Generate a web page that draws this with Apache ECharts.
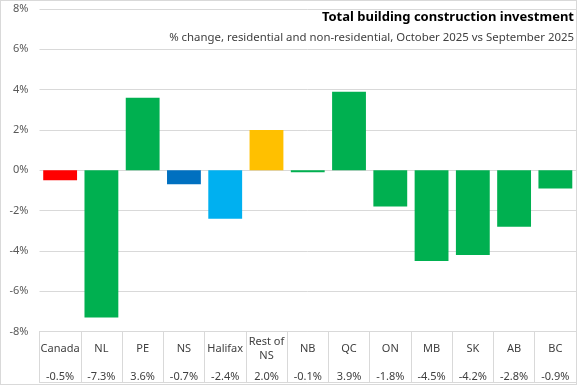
<!DOCTYPE html>
<html><head><meta charset="utf-8">
<script src="https://cdn.jsdelivr.net/npm/echarts@6/dist/echarts.min.js"></script>
<style>html,body{margin:0;padding:0;background:#fff}#c{width:577px;height:385px;box-sizing:border-box;border:1px solid #d9d9d9}</style>
</head><body><div id="c"></div>
<script>
const categories = ['Canada','NL','PE','NS','Halifax','Rest of\nNS','NB','QC','ON','MB','SK','AB','BC'];
const values = [-0.5,-7.3,3.6,-0.7,-2.4,2.0,-0.1,3.9,-1.8,-4.5,-4.2,-2.8,-0.9];
const valueLabels = ['-0.5%','-7.3%','3.6%','-0.7%','-2.4%','2.0%','-0.1%','3.9%','-1.8%','-4.5%','-4.2%','-2.8%','-0.9%'];
const barColors = ['#FF0000','#00B050','#00B050','#0070C0','#00B0F0','#FFC000','#00B050','#00B050','#00B050','#00B050','#00B050','#00B050','#00B050'];
const yTicks = [-8,-6,-4,-2,0,2,4,6,8];

const FONT = 'Noto Sans';
const chart = echarts.init(document.getElementById('c'));
chart.setOption({
  animation: false,
  textStyle: {fontFamily: FONT},
  title: [{
    text: 'Total building construction investment',
    right: 2, top: 10, padding: 0,
    textStyle: {fontFamily: FONT, fontSize: 13, fontWeight: 'bold', color: '#000'}
  }, {
    text: '% change, residential and non-residential, October 2025 vs September 2025',
    right: 2, top: 31, padding: 0,
    textStyle: {fontFamily: FONT, fontSize: 11.4, fontWeight: 'normal', color: '#404040'}
  }],
  grid: {left: 38.5, right: 0, top: 8, bottom: 52.5, containLabel: false},
  xAxis: [{
    type: 'category', data: categories, position: 'bottom',
    axisLine: {onZero: false, lineStyle: {color: '#d9d9d9'}},
    axisTick: {show: true, interval: 0, length: 51, lineStyle: {color: '#d9d9d9'}},
    axisLabel: {interval: 0, margin: 17, verticalAlign: 'middle', lineHeight: 14, fontSize: 11, color: '#404040', fontFamily: FONT}
  }, {
    type: 'category', data: categories, position: 'bottom', offset: 51,
    axisLine: {onZero: false, lineStyle: {color: '#d9d9d9'}},
    axisTick: {show: false},
    axisLabel: {interval: 0, inside: true, margin: 6, verticalAlign: 'middle', fontSize: 11, color: '#404040', fontFamily: FONT,
      formatter: (v, i) => valueLabels[i]}
  }],
  yAxis: {
    type: 'value', min: yTicks[0], max: yTicks[yTicks.length-1], interval: 2,
    axisLine: {show: false}, axisTick: {show: false},
    axisLabel: {formatter: '{value}%', margin: 11, fontSize: 11, color: '#595959', fontFamily: FONT},
    splitLine: {lineStyle: {color: '#d9d9d9'}}
  },
  series: [{
    type: 'bar', barCategoryGap: '18%',
    data: values.map((v, i) => ({value: v, itemStyle: {color: barColors[i]}}))
  }]
});
</script></body></html>
